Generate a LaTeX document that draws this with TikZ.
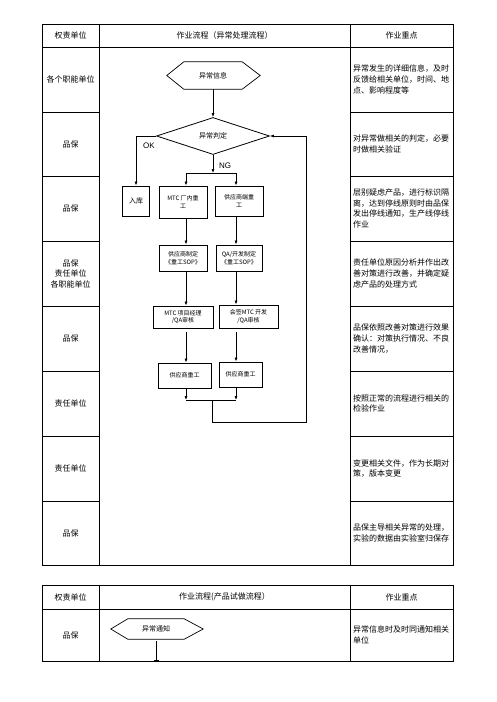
\documentclass[tikz,border=0pt]{standalone}
\usepackage{fontspec}
\setmainfont{Noto Sans CJK SC}
\newfontfamily\latinsans{Liberation Sans}
\usetikzlibrary{arrows.meta,shapes.geometric,calc}
\begin{document}
\begin{tikzpicture}[x=1pt,y=-1pt,
  tbl/.style={line width=0.9pt},
  flow/.style={line width=0.7pt},
  arr/.style={flow,-{Latex[length=4pt,width=3pt]}},
  box/.style={draw,line width=0.8pt,align=center,font=\fontsize{6}{7.5}\selectfont,inner sep=0pt},
  hexlbl/.style={align=center,font=\fontsize{7}{8}\selectfont,inner sep=0pt},
  lcell/.style={align=center,font=\fontsize{8}{10.5}\selectfont,inner sep=0pt},
  rcell/.style={anchor=west,align=left,font=\fontsize{8}{10.8}\selectfont,inner sep=0pt},
  lbl/.style={font=\latinsans\fontsize{8}{9}\selectfont,inner sep=0pt}
]
\useasboundingbox (0,0) rectangle (496,702);
\fill[white] (0,0) rectangle (496,702);

% ---------- table 1 ----------
\draw[tbl] (42,24) rectangle (453,565);
\draw[tbl] (99,24) -- (99,565);
\draw[tbl] (350,24) -- (350,565);
\draw[tbl] (42,47) -- (453,47);
\foreach \y in {112,176,241,306,371,436,501} {
  \draw[tbl] (42,\y) -- (99,\y);
  \draw[tbl] (350,\y) -- (453,\y);
}
\node[lcell] (h1) at (70.5,35.5) {权责单位};
\node[lcell] (h2) at (224.5,35.5) {作业流程（异常处理流程）};
\node[lcell] (h3) at (401.5,35.5) {作业重点};

\node[lcell] (l1) at (70.5,79.5) {各个职能单位};
\node[lcell] (l2) at (70.5,144) {品保};
\node[lcell] (l3) at (70.5,208.5) {品保};
\node[lcell] (l4) at (70.5,273.5) {品保\\责任单位\\各职能单位};
\node[lcell] (l5) at (70.5,338.5) {品保};
\node[lcell] (l6) at (70.5,403.5) {责任单位};
\node[lcell] (l7) at (70.5,468.5) {责任单位};
\node[lcell] (l8) at (70.5,533) {品保};

\node[rcell] (r1) at (353,79.5) {异常发生的详细信息，及时\\反馈给相关单位，时间、地\\点、影响程度等};
\node[rcell] (r2) at (353,144) {对异常做相关的判定，必要\\时做相关验证};
\node[rcell] (r3) at (353,208.5) {层别疑虑产品，进行标识隔\\离，达到停线原则时由品保\\发出停线通知，生产线停线\\作业};
\node[rcell] (r4) at (353,273.5) {责任单位原因分析并作出改\\善对策进行改善，并确定疑\\虑产品的处理方式};
\node[rcell] (r5) at (353,338.5) {品保依照改善对策进行效果\\确认：对策执行情况、不良\\改善情况，};
\node[rcell] (r6) at (353,403.5) {按照正常的流程进行相关的\\检验作业};
\node[rcell] (r7) at (353,468.5) {变更相关文件，作为长期对\\策，版本变更};
\node[rcell] (r8) at (353,533) {品保主导相关异常的处理，\\实验的数据由实验室归保存};

% ---------- flowchart 1 ----------
\node[hexlbl,minimum width=58pt,minimum height=27pt] (info) at (213,75.5) {异常信息};
\draw[flow] ($(info.west)+(-17,0)$) -- (info.north west) -- (info.north east)
  -- ($(info.east)+(18,0)$) -- (info.south east) -- (info.south west) -- cycle;

\node[diamond,draw,line width=0.8pt,minimum width=113pt,minimum height=37pt,inner sep=0pt,
      font=\fontsize{7}{8}\selectfont] (judge) at (213,136) {异常判定};
\draw[arr] (info.south) -- (judge.north);

\node[box,font=\fontsize{7}{8}\selectfont,minimum width=27pt,minimum height=30pt] (ruku) at (136,201) {入库};
\coordinate (okc) at (136,136);
\draw[arr] (judge.west) -- (okc) -- (ruku.north);
\node[lbl] (ok) at (149,146) {OK};

\coordinate (split) at (213,173);
\coordinate (cA) at (186,0);
\coordinate (cB) at (236,0);
\draw[arr] (judge.south) -- (split);
\node[lbl] (ng) at (225,166) {NG};

\node[box,minimum width=48pt,minimum height=32pt] (mtcin) at (183,202) {MTC 厂内重\\工};
\node[box,minimum width=48pt,minimum height=30pt] (supend) at (239,201) {供应商端重\\工};
\draw[flow] (cA |- split) -- (cB |- split);
\draw[arr] (cA |- split) -- (cA |- mtcin.north);
\draw[arr] (cB |- split) -- (cB |- supend.north);

\node[box,minimum width=48pt,minimum height=26pt] (sopA) at (183,258) {供应商制定\\《重工SOP》};
\node[box,minimum width=46pt,minimum height=26pt] (sopB) at (239,258) {QA/开发制定\\《重工SOP》};
\draw[arr] (cA |- mtcin.south) -- (cA |- sopA.north);
\draw[arr] (cB |- supend.south) -- (cB |- sopB.north);

\node[box,minimum width=60pt,minimum height=22pt] (revA) at (183,317) {MTC 项目经理\\/QA审核};
\node[box,minimum width=59pt,minimum height=23pt] (revB) at (248.5,316.5) {会签MTC 开发\\/QA审核};
\draw[arr] (cA |- sopA.south) -- (cA |- revA.north);
\draw[arr] (cB |- sopB.south) -- (cB |- revB.north);

\node[box,minimum width=53pt,minimum height=25pt] (rwA) at (184.5,375.5) {供应商重工};
\node[box,minimum width=43pt,minimum height=25pt] (rwB) at (240.5,374.5) {供应商重工};
\draw[arr] ($(cA |- revA.south)+(0,4)$) -- (cA |- rwA.north);
\draw[arr] ($(cB |- revB.south)+(0,4)$) -- (cB |- rwB.north);

\coordinate (merge) at (212,400);
\coordinate (fb1) at (306,422);
\coordinate (fb2) at (306,136);
\draw[arr] (cA |- rwA.south) -- (cA |- merge);
\draw[arr] (cB |- rwB.south) -- (cB |- merge);
\draw[flow] (cA |- merge) -- (cB |- merge);
\draw[arr] (merge) |- (fb1) -- (fb2) -- (judge.east);

% ---------- table 2 ----------
\draw[tbl] (42,585) rectangle (453,661);
\draw[tbl] (99,585) -- (99,661);
\draw[tbl] (350,585) -- (350,661);
\draw[tbl] (42,609) -- (453,609);
\node[lcell] (g1) at (70.5,597) {权责单位};
\node[lcell] (g2) at (224.5,597) {作业流程(产品试做流程）};
\node[lcell] (g3) at (401.5,597) {作业重点};
\node[lcell] (g4) at (70.5,635) {品保};
\node[rcell] (g5) at (353,635) {异常信息时及时同通知相关\\单位};

\node[hexlbl,minimum width=56pt,minimum height=20pt] (notice) at (156,629) {异常通知};
\draw[flow] ($(notice.west)+(-17,0)$) -- (notice.north west) -- (notice.north east)
  -- ($(notice.east)+(19,0)$) -- (notice.south east) -- (notice.south west) -- cycle;
\coordinate (nend) at (156,661);
\draw[flow,-{Bar[width=5pt]}] ($(notice.south)+(0,2)$) -- (nend);
\end{tikzpicture}
\end{document}
